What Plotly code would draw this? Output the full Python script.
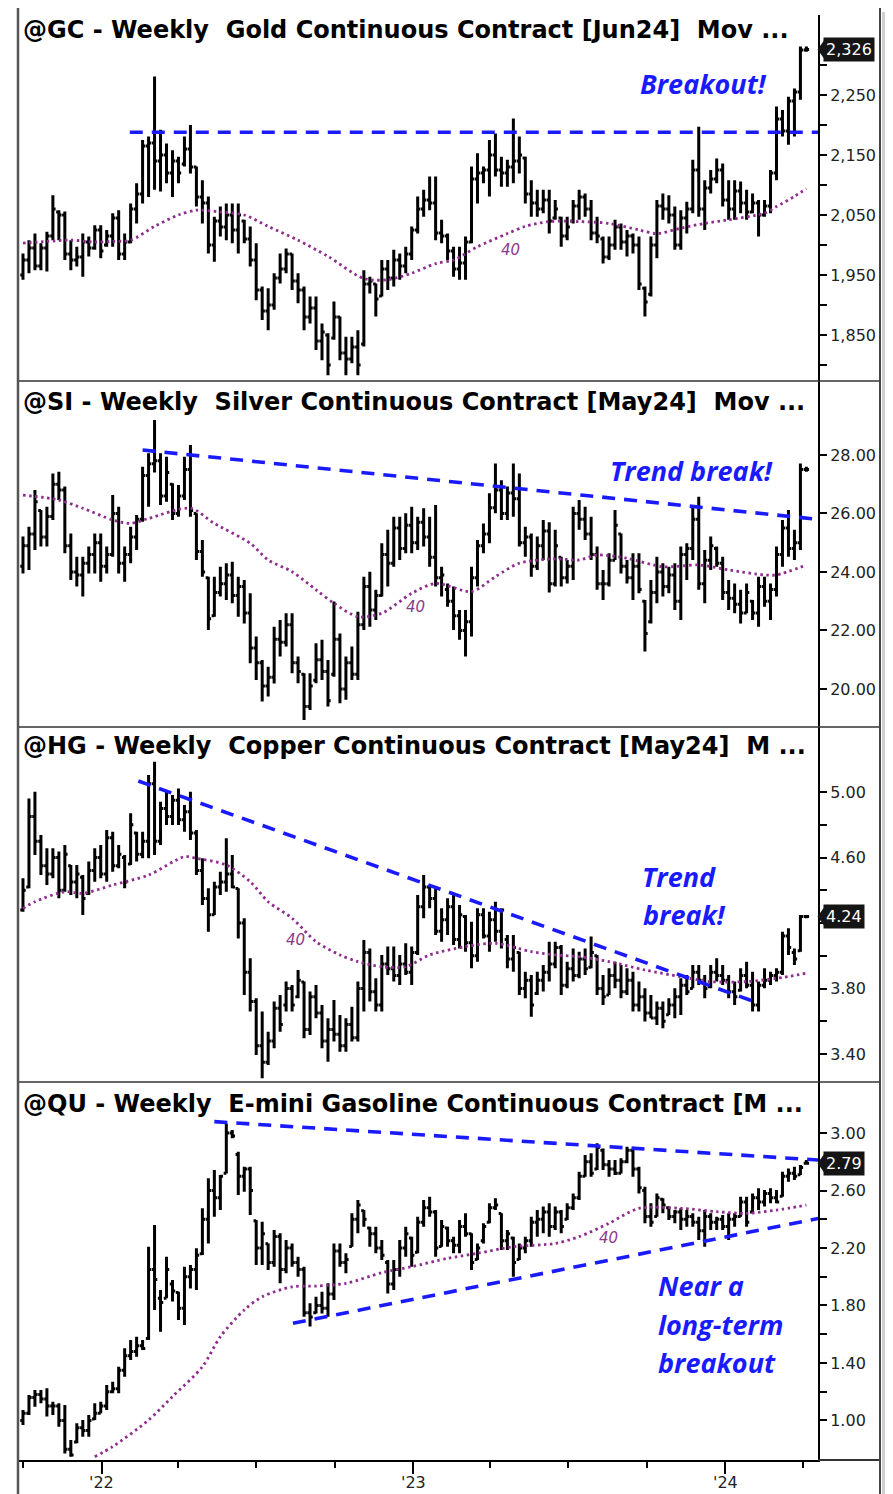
import pandas as pd
import plotly.graph_objects as go

# ---------------- data (weekly bars) ----------------
dates = pd.date_range("2021-10-01", periods=132, freq="7D")

gold_open = [1950,1975,1995,1965,1995,2015,2055,2050,1985,1975,
             1980,2005,1995,2025,2000,2015,2045,1985,2005,2060,
             2085,2165,2170,2140,2150,2120,2140,2135,2160,2130,
             2080,2070,2000,2040,2030,2050,2025,2040,2010,1975,
             1925,1890,1900,1945,1960,1985,1940,1925,1880,1895,
             1840,1850,1845,1880,1820,1810,1830,1835,1935,1935,
             1915,1960,1945,1975,1965,1985,2025,2060,2075,2070,
             2020,2015,1990,1960,1970,2005,2110,2120,2125,2150,
             2125,2120,2130,2140,2145,2085,2070,2060,2075,2045,
             2045,2015,2040,2065,2080,2060,2020,2010,1980,2000,
             2030,2005,2015,2000,1928,1918,2000,2065,2060,2050,
             2000,2045,2060,2125,2060,2095,2110,2125,2075,2060,
             2090,2070,2055,2070,2050,2065,2120,2210,2190,2240,
             2255,2325]
gold_high = [1986,2008,2019,2003,2022,2083,2058,2056,2008,1997,
             2019,2014,2033,2033,2025,2053,2058,2019,2069,2103,
             2175,2181,2281,2192,2169,2158,2147,2181,2200,2131,
             2108,2081,2047,2064,2069,2069,2069,2042,2031,2003,
             1931,1928,1953,1986,1994,1986,1953,1931,1914,1914,
             1869,1853,1906,1881,1847,1847,1858,1958,1947,1936,
             1975,1975,1992,1986,1997,2031,2081,2092,2114,2114,
             2042,2019,1997,1997,2014,2131,2153,2131,2175,2186,
             2147,2142,2211,2181,2147,2108,2092,2092,2092,2075,
             2047,2047,2075,2092,2086,2075,2047,2014,2014,2042,
             2036,2025,2019,2014,1931,2014,2075,2086,2083,2064,
             2058,2072,2142,2197,2108,2125,2144,2136,2108,2108,
             2106,2092,2086,2075,2075,2125,2231,2225,2247,2261,
             2331,2331]
gold_low = [1942,1953,1958,1958,1956,2008,2008,1975,1958,1964,
            1947,1981,1992,1978,1997,1997,1975,1975,2003,2036,
            2069,2080,2092,2089,2103,2080,2103,2131,2119,2064,
            2036,1986,1972,2014,2008,2003,1986,2003,1964,1908,
            1875,1858,1892,1936,1953,1925,1903,1858,1869,1825,
            1808,1783,1842,1808,1783,1803,1783,1831,1919,1881,
            1914,1925,1931,1942,1953,1975,2019,2047,2058,2008,
            2003,1975,1947,1942,1942,2003,2069,2103,2081,2114,
            2097,2097,2103,2119,2069,2047,2047,2053,2019,2042,
            1997,2008,2036,2042,2047,2008,2003,1969,1975,1992,
            1992,1981,1986,1925,1881,1914,1978,2042,2036,1992,
            1992,2019,2053,2047,2025,2086,2103,2064,2042,2042,
            2053,2042,2053,2014,2047,2053,2108,2181,2167,2181,
            2242,2322]
gold_close = [1975,1995,1965,1995,2015,2060,2050,1985,1975,1980,
              2005,1995,2025,1990,2015,2045,1985,2005,2060,2085,
              2165,2170,2140,2150,2120,2140,2120,2160,2130,2080,
              2070,2000,2040,2030,2050,2025,2050,2010,1975,1925,
              1890,1900,1945,1960,1985,1940,1925,1880,1895,1840,
              1855,1800,1880,1820,1810,1830,1800,1935,1940,1910,
              1960,1945,1975,1965,1985,2025,2060,2075,2070,2020,
              2015,1990,1960,1970,2005,2110,2120,2125,2150,2125,
              2120,2130,2140,2150,2085,2070,2060,2075,2040,2060,
              2015,2030,2065,2080,2060,2020,2015,1980,2000,2030,
              2005,2015,2000,1935,1905,2000,2065,2060,2050,2000,
              2045,2060,2125,2060,2095,2110,2125,2075,2060,2090,
              2070,2055,2070,2050,2065,2120,2210,2190,2240,2255,
              2325,2326]
gold_ma_week = [0,4,8,12,15,18,22,26,29,33,37,41,46,51,57,61,65,69,72,76,81,84,88,93,98,103,106,110,114,118,124,126,129,131]
gold_ma = [2003,2006,2008,2005,2006,2008,2031,2050,2058,2055,2050,2031,2008,1981,1944,1942,1953,1969,1975,1997,2019,2031,2039,2039,2036,2025,2019,2028,2036,2042,2053,2064,2081,2094]

silver_open = [24.2,24.9,25.3,26.1,25.2,25.9,27.0,26.8,24.9,24.0,
               23.9,24.3,24.6,25.0,24.2,24.6,26.0,24.3,24.6,25.2,
               25.8,27.3,27.7,27.8,26.6,27.0,26.0,26.6,27.5,26.0,
               24.7,23.8,22.5,23.3,23.6,23.9,23.2,23.5,22.6,21.4,
               20.9,20.1,20.4,21.7,21.6,22.2,20.9,20.5,19.4,20.3,
               21.0,20.6,20.5,21.7,20.0,20.9,20.5,22.2,23.5,22.7,
               23.2,24.6,24.3,25.5,24.8,25.6,25.0,25.7,25.2,24.5,
               23.8,23.4,23.0,22.5,22.0,22.3,23.8,24.9,25.3,26.2,
               26.8,26.0,26.7,26.5,25.0,25.2,24.2,24.9,25.4,23.6,
               24.5,23.8,24.2,26.0,25.8,25.3,24.6,23.6,23.6,24.4,
               25.3,24.2,23.8,24.2,23.0,22.3,23.3,24.0,23.5,23.9,
               23.0,24.6,24.8,25.8,23.6,24.4,24.8,24.3,23.3,23.1,
               22.9,22.6,23.0,22.6,23.5,23.0,23.4,24.6,25.5,24.8,
               25.0,27.5]
silver_high = [25.21,25.55,26.80,26.12,26.23,27.37,27.43,26.92,25.32,24.52,
               24.52,24.87,25.32,25.32,24.87,26.63,26.23,24.87,25.55,25.95,
               27.60,28.06,29.20,28.06,27.94,27.03,26.97,27.94,28.34,26.01,
               25.09,23.84,23.84,24.18,24.30,24.35,23.84,23.73,23.27,21.79,
               20.99,20.76,22.13,22.36,22.59,22.59,21.11,20.54,20.54,21.56,
               21.68,20.99,22.99,21.90,21.11,21.45,22.64,23.84,24.01,23.39,
               24.98,25.44,25.89,25.89,26.01,26.23,25.89,26.18,25.89,26.29,
               24.18,23.61,23.50,22.70,22.70,24.18,25.09,25.66,26.69,27.71,
               27.14,26.92,27.71,27.37,25.55,25.32,25.21,25.78,25.70,25.44,
               24.52,24.41,26.23,26.46,26.23,25.89,24.87,24.07,24.64,26.12,
               25.32,24.41,24.64,24.64,23.04,23.73,24.52,24.30,24.18,24.30,
               24.87,24.98,26.23,26.57,24.75,25.21,24.87,24.52,23.73,23.61,
               23.39,23.61,23.04,23.84,23.84,23.61,24.87,25.78,26.12,25.44,
               27.71,27.60]
silver_low = [23.95,24.07,24.75,24.87,24.87,25.78,26.46,24.64,23.73,23.50,
              23.16,23.95,23.95,23.67,23.95,24.52,23.95,23.67,24.30,24.75,
              25.72,26.23,27.40,26.29,26.40,25.78,25.89,26.46,25.89,24.41,
              23.84,22.02,22.47,23.16,23.04,22.93,22.47,22.24,20.88,20.31,
              19.57,19.74,20.19,21.11,21.45,20.54,20.20,18.94,19.28,20.20,
              20.31,19.40,20.42,19.51,19.63,20.31,20.31,22.02,22.13,22.36,
              23.16,23.50,24.18,24.41,24.64,24.64,24.75,24.87,24.18,23.50,
              23.16,22.81,22.02,21.68,21.11,21.79,23.50,24.64,24.98,26.01,
              25.78,25.78,25.89,24.87,24.52,23.84,24.07,24.41,23.30,23.50,
              23.50,23.61,23.73,25.44,25.09,24.41,23.39,23.04,23.50,24.41,
              23.95,23.61,23.04,23.27,21.28,22.24,22.93,23.16,23.27,22.70,
              22.36,23.73,24.41,23.39,22.93,24.07,24.18,23.04,22.70,22.59,
              22.24,22.59,22.36,22.13,22.81,22.36,23.16,24.18,24.52,24.41,
              24.75,27.43]
silver_close = [24.9,25.3,26.4,25.2,25.9,27.0,26.8,24.9,24.0,23.9,
                24.3,24.6,25.0,24.2,24.6,26.0,24.3,24.6,25.2,25.8,
                27.3,27.7,27.8,26.6,27.4,26.0,26.6,27.5,26.1,24.7,
                24.0,22.4,23.3,23.6,23.9,23.2,23.5,22.6,21.4,20.9,
                20.1,20.4,21.7,21.6,22.2,20.9,20.6,19.4,20.1,21.0,
                20.6,19.6,21.7,20.0,20.9,20.5,22.2,23.5,22.7,23.2,
                24.6,24.3,25.5,24.8,25.6,25.0,25.7,25.2,24.5,23.8,
                23.9,23.0,22.5,22.0,22.3,23.8,24.9,25.3,26.2,26.8,
                26.0,26.7,26.5,25.0,25.2,24.2,24.9,25.4,23.6,24.9,
                23.8,24.2,26.0,25.8,25.3,24.6,23.6,23.6,24.4,25.6,
                24.2,23.8,24.2,23.4,21.9,23.3,24.0,23.5,23.9,23.0,
                24.6,24.8,25.8,23.6,24.4,24.9,24.3,23.3,23.1,22.9,
                22.6,23.3,22.6,23.5,23.0,23.4,24.6,25.5,24.8,25.0,
                27.5,27.5]
silver_ma_week = [0,6,10,15,18,21,28,32,38,41,45,49,52,56,60,65,69,75,79,83,89,93,96,101,107,113,118,124,126,131]
silver_ma = [26.63,26.46,26.18,25.78,25.66,25.83,26.18,25.66,24.98,24.41,24.01,23.39,22.93,22.47,22.59,23.27,23.61,23.33,23.84,24.30,24.45,24.41,24.58,24.47,24.18,24.24,24.07,23.90,23.90,24.24]

copper_open = [4.28,4.42,4.85,4.70,4.55,4.50,4.60,4.40,4.55,4.45,
               4.48,4.38,4.52,4.60,4.50,4.72,4.55,4.60,4.56,4.75,
               4.62,4.70,5.05,4.70,4.90,4.85,4.95,4.83,4.88,4.75,
               4.52,4.35,4.25,4.42,4.45,4.50,4.41,4.20,3.90,3.72,
               3.45,3.35,3.48,3.68,3.70,3.80,3.75,3.84,3.55,3.75,
               3.65,3.48,3.55,3.52,3.45,3.58,3.50,3.80,4.02,3.78,
               3.70,3.95,3.92,3.88,3.95,3.90,4.02,4.30,4.42,4.35,
               4.15,4.22,4.30,4.10,4.24,4.08,4.00,4.25,4.12,4.22,
               4.15,4.10,3.98,4.02,3.80,3.85,3.77,3.85,3.90,3.95,
               4.05,3.82,3.92,3.88,3.98,3.93,4.00,3.80,3.76,3.88,
               3.85,3.78,3.85,3.70,3.75,3.65,3.62,3.68,3.64,3.70,
               3.75,3.82,3.80,3.90,3.85,3.81,3.90,3.88,3.85,3.78,
               3.79,3.88,3.82,3.70,3.82,3.85,3.88,3.90,4.12,4.02,
               4.03,4.24]
copper_high = [4.473,4.961,5.002,4.737,4.656,4.656,4.636,4.676,4.554,4.554,
               4.493,4.575,4.656,4.676,4.768,4.758,4.676,4.615,4.870,4.758,
               4.758,5.104,5.185,4.941,5.002,4.982,5.022,4.921,5.002,4.768,
               4.595,4.412,4.452,4.513,4.717,4.615,4.412,4.229,3.984,3.740,
               3.659,3.536,3.720,3.760,3.842,3.821,3.913,3.842,3.781,3.821,
               3.699,3.618,3.730,3.638,3.618,3.689,3.842,4.096,4.045,3.862,
               4.005,4.056,4.056,4.005,4.076,4.056,4.371,4.493,4.432,4.412,
               4.290,4.351,4.371,4.310,4.249,4.208,4.290,4.290,4.269,4.330,
               4.290,4.127,4.127,4.025,3.903,3.883,3.903,3.943,4.086,4.086,
               4.066,3.964,4.045,4.025,4.045,4.117,4.005,3.883,3.923,3.964,
               3.943,3.923,3.903,3.842,3.801,3.760,3.720,3.720,3.740,3.801,
               3.862,3.883,3.943,3.943,3.883,3.943,3.984,3.943,3.883,3.842,
               3.923,3.964,3.903,3.842,3.923,3.903,3.923,4.147,4.168,4.045,
               4.249,4.249]
copper_low = [4.269,4.412,4.615,4.493,4.432,4.473,4.351,4.391,4.371,4.351,
              4.249,4.371,4.452,4.473,4.452,4.513,4.534,4.412,4.554,4.575,
              4.595,4.595,4.615,4.676,4.798,4.798,4.798,4.758,4.707,4.493,
              4.310,4.147,4.249,4.371,4.391,4.412,4.106,3.760,3.659,3.394,
              3.252,3.333,3.435,3.536,3.659,3.659,3.740,3.496,3.516,3.618,
              3.435,3.353,3.476,3.414,3.414,3.476,3.476,3.659,3.720,3.659,
              3.659,3.883,3.842,3.821,3.883,3.821,4.005,4.229,4.290,4.127,
              4.086,4.127,4.066,4.045,4.025,3.923,3.964,4.106,4.025,4.086,
              4.045,3.923,3.903,3.760,3.740,3.628,3.760,3.781,3.842,3.923,
              3.760,3.801,3.842,3.862,3.883,3.923,3.760,3.699,3.760,3.801,
              3.740,3.760,3.659,3.659,3.598,3.618,3.577,3.557,3.638,3.618,
              3.638,3.760,3.801,3.821,3.740,3.801,3.842,3.821,3.740,3.699,
              3.781,3.801,3.659,3.659,3.801,3.821,3.842,3.883,4.005,3.943,
              4.025,4.229]
copper_close = [4.40,4.85,4.70,4.55,4.50,4.60,4.40,4.62,4.45,4.50,
                4.35,4.52,4.60,4.50,4.72,4.55,4.62,4.45,4.80,4.62,
                4.70,5.05,4.70,4.90,4.85,4.95,4.83,4.88,4.75,4.52,
                4.35,4.25,4.42,4.45,4.50,4.42,4.20,3.90,3.72,3.45,
                3.35,3.48,3.68,3.58,3.80,3.70,3.85,3.55,3.75,3.65,
                3.48,3.55,3.52,3.45,3.58,3.50,3.80,4.02,3.78,3.70,
                3.95,3.92,3.88,3.95,3.90,4.02,4.30,4.42,4.35,4.15,
                4.22,4.30,4.10,4.25,4.08,4.00,4.25,4.12,4.22,4.15,
                4.28,3.98,4.05,3.80,3.85,3.70,3.85,3.90,3.95,4.05,
                3.82,3.92,3.88,3.98,3.92,4.02,3.80,3.75,3.88,3.85,
                3.78,3.85,3.70,3.75,3.65,3.62,3.68,3.60,3.70,3.75,
                3.82,3.78,3.90,3.85,3.80,3.90,3.88,3.85,3.78,3.75,
                3.88,3.82,3.70,3.82,3.85,3.88,3.90,4.12,4.05,3.98,
                4.24,4.24]
copper_ma_week = [0,2,7,10,15,21,27,29,34,38,41,45,49,53,56,60,64,68,74,79,85,89,93,98,104,110,115,121,126,131]
copper_ma = [4.290,4.330,4.391,4.381,4.432,4.493,4.605,4.595,4.554,4.452,4.330,4.229,4.086,4.005,3.964,3.933,3.933,4.005,4.056,4.076,4.025,4.005,3.994,3.964,3.913,3.872,3.842,3.842,3.862,3.893]

gas_open = [1.00,1.05,1.16,1.18,1.15,1.10,1.10,1.00,0.80,0.85,
            0.95,0.93,1.01,1.05,1.10,1.20,1.22,1.35,1.45,1.48,
            1.52,1.57,2.05,1.85,1.85,1.95,1.89,1.78,2.00,2.05,
            2.16,2.40,2.60,2.55,2.72,3.00,2.85,2.70,2.75,2.39,
            2.20,2.23,2.10,2.28,2.05,2.20,2.10,2.05,1.75,1.75,
            1.80,1.78,1.88,2.18,2.10,2.21,2.40,2.46,2.34,2.30,
            2.20,2.10,1.95,2.05,2.20,2.27,2.17,2.38,2.48,2.45,
            2.21,2.34,2.25,2.22,2.35,2.30,2.12,2.25,2.38,2.48,
            2.44,2.25,2.27,2.12,2.20,2.25,2.38,2.40,2.45,2.35,
            2.45,2.40,2.48,2.55,2.70,2.80,2.75,2.88,2.78,2.75,
            2.72,2.80,2.88,2.75,2.60,2.42,2.42,2.54,2.48,2.42,
            2.45,2.40,2.42,2.38,2.32,2.42,2.38,2.40,2.35,2.40,
            2.42,2.52,2.45,2.55,2.52,2.58,2.55,2.56,2.70,2.72,
            2.71,2.79]
gas_high = [1.073,1.177,1.212,1.212,1.224,1.131,1.119,1.108,0.864,0.980,
            1.003,1.038,1.119,1.131,1.247,1.270,1.374,1.502,1.560,1.583,
            1.560,2.209,2.360,1.908,2.140,1.977,1.896,2.070,2.082,2.198,
            2.476,2.685,2.743,2.708,3.067,3.021,2.870,2.766,2.766,2.395,
            2.383,2.232,2.325,2.302,2.256,2.232,2.140,2.070,1.815,1.861,
            1.896,1.954,2.232,2.232,2.163,2.441,2.534,2.464,2.348,2.348,
            2.256,2.116,2.116,2.256,2.348,2.279,2.418,2.534,2.557,2.464,
            2.395,2.348,2.279,2.395,2.441,2.302,2.232,2.372,2.511,2.546,
            2.441,2.325,2.279,2.232,2.279,2.418,2.464,2.488,2.511,2.488,
            2.464,2.511,2.580,2.731,2.847,2.859,2.928,2.893,2.812,2.812,
            2.824,2.905,2.882,2.766,2.627,2.511,2.580,2.546,2.488,2.464,
            2.476,2.464,2.441,2.418,2.464,2.441,2.418,2.430,2.441,2.441,
            2.557,2.557,2.580,2.615,2.603,2.615,2.603,2.731,2.754,2.766,
            2.777,2.812]
gas_low = [0.969,1.038,1.096,1.119,1.027,1.038,0.957,0.771,0.748,0.841,
           0.887,0.887,1.003,1.050,1.073,1.189,1.189,1.305,1.421,1.444,
           1.490,1.560,1.769,1.618,1.850,1.827,1.699,1.664,1.919,1.908,
           2.151,2.232,2.418,2.464,2.719,2.963,2.569,2.592,2.430,2.082,
           2.082,2.047,2.070,1.954,2.024,2.070,2.000,1.722,1.653,1.745,
           1.745,1.722,1.838,2.070,2.024,2.209,2.302,2.348,2.209,2.163,
           2.116,1.884,1.908,2.000,2.140,2.070,2.163,2.348,2.418,2.140,
           2.209,2.209,2.163,2.163,2.279,2.047,2.116,2.232,2.372,2.464,
           2.186,2.186,2.000,2.116,2.163,2.209,2.279,2.302,2.279,2.325,
           2.302,2.395,2.464,2.534,2.696,2.696,2.743,2.743,2.696,2.708,
           2.719,2.789,2.696,2.580,2.372,2.348,2.418,2.441,2.395,2.372,
           2.325,2.348,2.348,2.256,2.209,2.325,2.325,2.325,2.256,2.348,
           2.418,2.348,2.441,2.464,2.488,2.511,2.511,2.557,2.661,2.673,
           2.708,2.789]
gas_close = [1.05,1.16,1.18,1.15,1.10,1.10,1.00,0.80,0.76,0.95,
             0.93,1.00,1.05,1.10,1.20,1.22,1.35,1.45,1.48,1.52,
             1.50,2.05,1.98,1.82,2.05,1.90,1.78,2.00,2.05,2.15,
             2.40,2.60,2.55,2.70,3.00,2.98,2.70,2.75,2.60,2.20,
             2.30,2.10,2.28,2.05,2.20,2.10,2.05,1.75,1.72,1.80,
             1.78,1.88,2.18,2.10,2.12,2.40,2.50,2.40,2.30,2.20,
             2.15,1.95,2.05,2.20,2.30,2.15,2.38,2.48,2.45,2.20,
             2.35,2.25,2.22,2.35,2.30,2.10,2.20,2.35,2.48,2.50,
             2.25,2.30,2.10,2.20,2.25,2.38,2.40,2.45,2.35,2.45,
             2.35,2.48,2.55,2.70,2.80,2.72,2.90,2.78,2.75,2.72,
             2.80,2.88,2.75,2.62,2.42,2.38,2.55,2.50,2.42,2.45,
             2.40,2.42,2.38,2.32,2.42,2.38,2.40,2.35,2.40,2.42,
             2.52,2.38,2.55,2.52,2.58,2.55,2.52,2.70,2.72,2.70,
             2.76,2.79]
gas_ma_week = [12,15,21,25,30,33,37,40,45,49,54,60,65,71,76,82,89,93,98,103,110,116,121,126,131]
gas_ma = [0.748,0.818,1.003,1.166,1.374,1.583,1.769,1.861,1.930,1.935,1.954,2.028,2.070,2.128,2.163,2.209,2.232,2.279,2.372,2.476,2.476,2.453,2.441,2.464,2.499]

# trend lines (date, value)
gold_line_dates = ["2022-02-03", "2024-04-19"]
gold_line_vals = [2188, 2188]
silver_line_dates = ["2022-02-18", "2024-04-19"]
silver_line_vals = [28.17, 25.80]
copper_line_dates = ["2022-02-13", "2024-02-04"]
copper_line_vals = [5.067, 3.720]
gas_upper_dates = ["2022-05-13", "2024-04-19"]
gas_upper_vals = [3.079, 2.812]
gas_lower_dates = ["2022-08-13", "2024-04-19"]
gas_lower_vals = [1.676, 2.406]

titles = ["@GC - Weekly\u00a0 Gold Continuous Contract [Jun24]\u00a0 Mov ...",
          "@SI - Weekly\u00a0 Silver Continuous Contract [May24]\u00a0 Mov ...",
          "@HG - Weekly\u00a0 Copper Continuous Contract [May24]\u00a0 M ...",
          "@QU - Weekly\u00a0 E-mini Gasoline Continuous Contract [M ..."]
last_labels = [("2,326", 2326), None, ("4.24", 4.24), ("2.79", 2.79)]
year_ticks = ["2022-01-01", "2023-01-01", "2024-01-01"]
year_labels = ["'22", "'23", "'24"]

# ---------------- layout helpers (page pixels; page body has an 8px margin) ----------------
PAGE_W, PAGE_H = 893, 1494
BODY = 8
PL, PR, PT, PB = 18, 818, 15, 1460          # plot area in page pixels
W, H = PAGE_W - BODY, PAGE_H - BODY
ML, MT = PL - BODY, PT - BODY
MR, MB = PAGE_W - PR, PAGE_H - PB
PW, PH = PR - PL, PB - PT


def fx(x):
    return (x - PL) / PW


def fy(y):
    return (PB - y) / PH


X_RANGE = ["2021-09-25 04:00", "2024-04-18 14:00"]
BLACK = "#000000"
BLUE = "#1a1aff"
PURPLE = "#8e2d8e"
TICKFONT = dict(family="DejaVu Sans", size=16, color="#222222")

panels = [
    dict(o=gold_open, h=gold_high, l=gold_low, c=gold_close, maw=gold_ma_week, ma=gold_ma,
         top=15, bot=381, rng=[1773.3, 2383.3], tv=[1850, 1950, 2050, 2150, 2250],
         mv=[1800, 1900, 2000, 2100, 2200, 2300], fmt=",.0f"),
    dict(o=silver_open, h=silver_high, l=silver_low, c=silver_close, maw=silver_ma_week, ma=silver_ma,
         top=381, bot=727, rng=[18.70, 30.53], tv=[20, 22, 24, 26, 28], mv=[], fmt=".2f"),
    dict(o=copper_open, h=copper_high, l=copper_low, c=copper_close, maw=copper_ma_week, ma=copper_ma,
         top=727, bot=1082, rng=[3.229, 5.397], tv=[3.4, 3.8, 4.6, 5.0],
         mv=[3.6, 4.0, 4.2, 4.4, 4.8], fmt=".2f"),
    dict(o=gas_open, h=gas_high, l=gas_low, c=gas_close, maw=gas_ma_week, ma=gas_ma,
         top=1082, bot=1460, rng=[0.725, 3.355], tv=[1.0, 1.4, 1.8, 2.2, 2.6, 3.0],
         mv=[1.2, 1.6, 2.0, 2.4, 2.8], fmt=".2f"),
]

fig = go.Figure()
layout = dict(width=W, height=H, margin=dict(l=ML, r=MR, t=MT, b=MB, autoexpand=False),
              paper_bgcolor="white", plot_bgcolor="white", showlegend=False,
              hovermode=False)

for k, p in enumerate(panels, start=1):
    xa = "x" if k == 1 else f"x{k}"
    ya = "y" if k == 1 else f"y{k}"
    fig.add_trace(go.Ohlc(x=dates, open=p["o"], high=p["h"], low=p["l"], close=p["c"],
                          xaxis=xa, yaxis=ya, tickwidth=0.45,
                          increasing=dict(line=dict(color=BLACK, width=3)),
                          decreasing=dict(line=dict(color=BLACK, width=3)),
                          hoverinfo="skip"))
    fig.add_trace(go.Scatter(x=[dates[i] for i in p["maw"]], y=p["ma"], mode="lines",
                             xaxis=xa, yaxis=ya, hoverinfo="skip",
                             line=dict(color=PURPLE, width=2.8, dash="2.5px,3.5px",
                                       shape="spline", smoothing=0.8)))
    xkey = "xaxis" if k == 1 else f"xaxis{k}"
    ykey = "yaxis" if k == 1 else f"yaxis{k}"
    last = k == 4
    layout[xkey] = dict(domain=[0, 1], anchor=ya, range=X_RANGE, type="date", automargin=False,
                        rangeslider=dict(visible=False), showgrid=False, zeroline=False,
                        showticklabels=False, showline=last, linecolor=BLACK, linewidth=2,
                        ticks="outside" if last else "", ticklen=12, tickwidth=1.5,
                        tickcolor=BLACK,
                        tickvals=year_ticks if last else None,
                        minor=dict(ticks="outside", ticklen=6, tickwidth=1.5, tickcolor=BLACK,
                                   dtick="M3", tick0="2022-01-01") if last else None)
    layout[ykey] = dict(domain=[fy(p["bot"]), fy(p["top"])], anchor=xa, side="right",
                        range=p["rng"], showgrid=False, zeroline=False, automargin=False,
                        showline=True, linecolor=BLACK, linewidth=2,
                        ticks="outside", ticklen=7, tickwidth=1.5, tickcolor=BLACK,
                        tickvals=p["tv"], tickformat=p["fmt"], tickfont=TICKFONT,
                        minor=dict(tickvals=p["mv"], ticks="outside", ticklen=7,
                                   tickwidth=1.5, tickcolor=BLACK) if p["mv"] else None)

# trend lines
trend = [("x", "y", gold_line_dates, gold_line_vals),
         ("x2", "y2", silver_line_dates, silver_line_vals),
         ("x3", "y3", copper_line_dates, copper_line_vals),
         ("x4", "y4", gas_upper_dates, gas_upper_vals),
         ("x4", "y4", gas_lower_dates, gas_lower_vals)]
for xa, ya, xd, yv in trend:
    fig.add_trace(go.Scatter(x=xd, y=yv, mode="lines", xaxis=xa, yaxis=ya, hoverinfo="skip",
                             line=dict(color=BLUE, width=3.6, dash="13px,9px")))

fig.update_layout(**layout)

annotations = []
# year labels under the bottom time axis
for tv, tt in zip(year_ticks, year_labels):
    annotations.append(dict(text=tt, xref="x4", yref="paper", x=tv, y=fy(1482),
                            xanchor="center", yanchor="middle", showarrow=False,
                            font=TICKFONT))
# panel titles
for t, yp in zip(titles, [30, 402, 746, 1104]):
    annotations.append(dict(text=t, xref="paper", yref="paper", x=fx(21), y=fy(yp),
                            xanchor="left", yanchor="middle", showarrow=False,
                            font=dict(family="DejaVu Sans", size=24, color="#000000", weight="bold")))
# commentary (one annotation per text line)
big = dict(family="Open Sans", size=27, color=BLUE, weight="bold", style="italic")
comments = [("Breakout!", 703, 84, "center"),
            ("Trend break!", 691, 471, "center"),
            ("Trend", 679, 876, "center"),
            ("break!", 684, 914, "center"),
            ("Near a", 656, 1285, "left"),
            ("long-term", 656, 1324, "left"),
            ("breakout", 656, 1362, "left")]
for txt, xp, yp, anc in comments:
    annotations.append(dict(text=txt, xref="paper", yref="paper", x=fx(xp), y=fy(yp),
                            xanchor=anc, yanchor="middle", showarrow=False, font=big))
# MA length labels
for xp, yp in [(510, 250), (415, 607), (295, 940), (608, 1238)]:
    annotations.append(dict(text="40", xref="paper", yref="paper", x=fx(xp), y=fy(yp),
                            showarrow=False, xanchor="center", yanchor="middle",
                            font=dict(family="DejaVu Sans", size=15, color="#8a3a8a", style="italic")))

shapes = []
# last value boxes with a small pointer toward the axis
for k, lab in enumerate(last_labels, start=1):
    if lab is None:
        continue
    p = panels[k - 1]
    yref = "y" if k == 1 else f"y{k}"
    annotations.append(dict(text=lab[0], xref="paper", yref=yref,
                            x=fx(823), y=lab[1], xanchor="left", yanchor="middle",
                            showarrow=False, bgcolor="#151515", borderpad=2,
                            font=dict(family="DejaVu Sans", size=16, color="white")))
    per_px = (p["rng"][1] - p["rng"][0]) / (p["bot"] - p["top"])
    v = lab[1]
    shapes.append(dict(type="path", xref="paper", yref=yref,
                       path=f"M {fx(817.5)},{v} L {fx(824)},{v + 9 * per_px} L {fx(824)},{v - 9 * per_px} Z",
                       fillcolor="#151515", line=dict(width=0)))
fig.update_layout(annotations=annotations)

# frame and panel separators
line_c = "#333333"
for yb in [381, 727, 1082]:
    shapes.append(dict(type="line", xref="paper", yref="paper", x0=0, x1=fx(880),
                       y0=fy(yb), y1=fy(yb), line=dict(color=line_c, width=1.5)))
shapes.append(dict(type="line", xref="paper", yref="paper", x0=1, x1=fx(880),
                   y0=0, y1=0, line=dict(color=line_c, width=2)))
shapes.append(dict(type="line", xref="paper", yref="paper", x0=0, x1=0,
                   y0=fy(PAGE_H), y1=fy(BODY), line=dict(color="#555555", width=2.5)))
shapes.append(dict(type="line", xref="paper", yref="paper", x0=fx(880), x1=fx(880),
                   y0=fy(PAGE_H), y1=fy(BODY), line=dict(color="#444444", width=2)))
shapes.append(dict(type="rect", xref="paper", yref="paper", x0=fx(882), x1=fx(889),
                   y0=fy(PAGE_H), y1=fy(BODY + 4), fillcolor="#cfcfcf", line=dict(width=0)))
fig.update_layout(shapes=shapes)

fig.write_html("out.html")
